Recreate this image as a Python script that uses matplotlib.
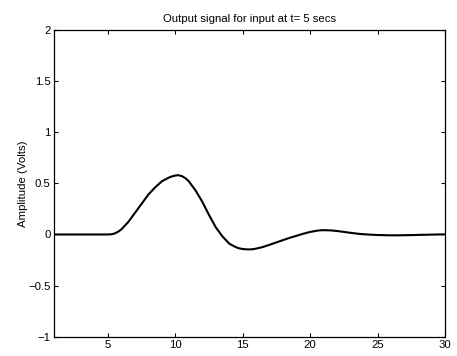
import numpy as np
import matplotlib
matplotlib.use("Agg")
import matplotlib.pyplot as plt

# output signal (time in secs, amplitude in volts)
t = [1, 2, 3, 4, 5, 5.25, 5.5, 5.75, 6, 6.5, 7, 7.5, 8, 8.5, 9, 9.5, 9.75,
     10, 10.2, 10.5, 10.75, 11, 11.5, 12, 12.5, 13, 13.5, 14, 14.5, 14.75,
     15, 15.25, 15.5, 15.75, 16, 16.5, 17, 17.5, 18, 18.5, 19, 19.5, 20,
     20.5, 20.75, 21, 21.5, 22, 22.5, 23, 23.5, 24, 24.5, 25, 25.5, 26,
     26.5, 27, 27.5, 28, 28.5, 29, 29.5, 30]
amp = [0, 0, 0, 0, 0, 0.002, 0.01, 0.026, 0.05, 0.12, 0.21, 0.30, 0.39, 0.46,
       0.52, 0.555, 0.568, 0.576, 0.58, 0.57, 0.55, 0.52, 0.43, 0.32, 0.19,
       0.07, -0.02, -0.09, -0.125, -0.136, -0.142, -0.145, -0.146, -0.144,
       -0.138, -0.122, -0.10, -0.077, -0.054, -0.032, -0.012, 0.008, 0.025,
       0.037, 0.041, 0.042, 0.04, 0.034, 0.025, 0.016, 0.008, 0.002, -0.002,
       -0.005, -0.007, -0.008, -0.008, -0.007, -0.006, -0.004, -0.003, -0.001,
       0.0, 0.001]
xticks = [5, 10, 15, 20, 25, 30]
yticks = [-1, -0.5, 0, 0.5, 1, 1.5, 2]
yticklabels = ['\u22121', '\u22120.5', '0', '0.5', '1', '1.5', '2']

plt.rcParams['font.family'] = ['Liberation Sans', 'DejaVu Sans']
fs = 8.2

fig = plt.figure(figsize=(4.57, 3.56), dpi=100)
ax = fig.add_axes([0.118, 0.054, 0.856, 0.862])
ax.plot(t, amp, color='black', linewidth=1.5, solid_joinstyle='round')

ax.set_xlim(1, 30)
ax.set_ylim(-1, 2)
ax.set_xticks(xticks)
ax.set_yticks(yticks)
ax.set_yticklabels(yticklabels)
ax.tick_params(direction='in', length=3, width=0.8, top=True, right=True,
               labelsize=fs, pad=2.5)
for s in ax.spines.values():
    s.set_linewidth(0.9)

ax.set_title('Output signal for input at t= 5 secs', fontsize=fs, pad=6)
ax.set_ylabel('Amplitude (Volts)', fontsize=fs, labelpad=0)

fig.savefig('out.png', dpi=100)
